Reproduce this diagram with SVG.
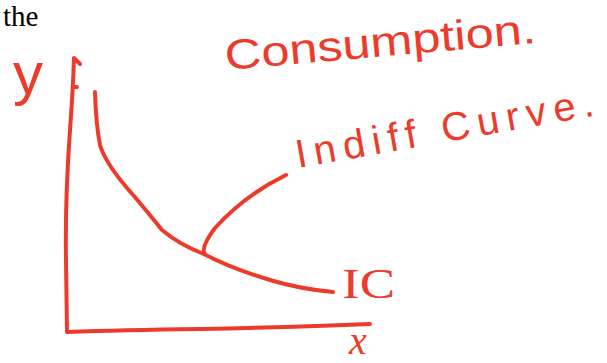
<svg xmlns="http://www.w3.org/2000/svg" width="607" height="363" viewBox="0 0 607 363">
<style>
.ink{fill:none;stroke:#ec3b2b;stroke-width:4;stroke-linecap:round;stroke-linejoin:round}
.hand{fill:#ec3b2b;font-family:"Liberation Sans","DejaVu Sans",sans-serif}
.serif{fill:#ec3b2b;font-family:"Liberation Serif","DejaVu Serif",serif}
</style>
<rect width="607" height="363" fill="#ffffff"/>
<text x="3" y="26" font-family="Liberation Serif, serif" font-size="29" fill="#000000">the</text>
<g id="axes">
<path class="ink" d="M80,64 L74,58 Q73,90 70,130 Q65,200 66,260 L67,332 Q120,330 200,329 Q300,327 370,324"/>
<path class="ink" d="M73,87 L77,87"/>
</g>
<g id="curve">
<path class="ink" d="M95,92 Q96,125 100,145 Q106,165 134,196 Q150,215 162,230 Q180,245 204,254 Q230,268 270,280 Q300,289 333,292"/>
</g>
<g id="connectors">
<path class="ink" d="M205,254 Q200,248 215,228 Q245,195 286,175"/>
</g>
<g id="labels">
<text class="hand" x="13" y="94" font-size="60">y</text>
<text class="serif" x="349" y="354" font-size="40" font-style="italic">x</text>
<text class="serif" x="342" y="298" font-size="42" textLength="53" lengthAdjust="spacingAndGlyphs">IC</text>
<text class="hand" x="226" y="70" font-size="42" textLength="312" lengthAdjust="spacingAndGlyphs" transform="rotate(-5 226 70)">Consumption.</text>
<text class="hand" x="298" y="168" font-size="40" textLength="302" lengthAdjust="spacing" transform="rotate(-10 298 168)">Indiff Curve.</text>
</g>
</svg>
